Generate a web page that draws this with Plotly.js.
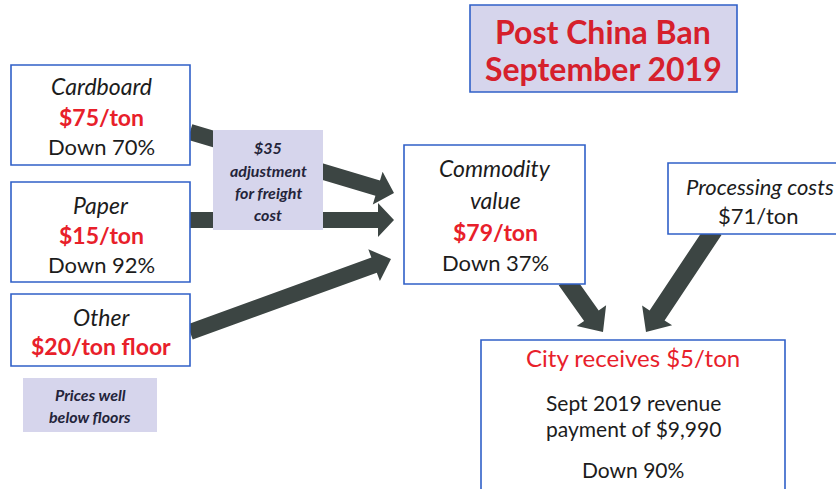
<!DOCTYPE html>
<html><head><meta charset="utf-8">
<script src="https://cdn.plot.ly/plotly-3.0.1.min.js"></script>
<style>html,body{margin:0;padding:0;background:#fff}#chart{width:836px;height:489px}</style>
</head><body><div id="chart"></div>
<script>
// ---- data ----
const titleLines = ["Post China Ban", "September 2019"];
const materials = ["Cardboard", "Paper", "Other"];
const materialPrices = [75, 15, 20];
const materialDrops = [70, 92, null];
const freightAdjustment = 35;
const commodityValue = 79;
const commodityDrop = 37;
const processingCost = 71;
const cityReceives = 5;
const revenueMonth = "Sept 2019";
const revenuePayment = 9990;
const revenueDrop = 90;
const noteText = ["Prices well", "below floors"];

// ---- style ----
const BLUE = "#3060c8", LAV = "#d6d5ec", RED = "#e8202a", TRED = "#d6202c", GREY = "#3c4543", INK = "#1c1c1c", NAVY = "#24243a";
const FONT = "Lato, 'Open Sans', sans-serif";

const shapes = [], ann = [];
function box(x0, y0, x1, y1, fill, border) {
  shapes.push({type: "rect", xref: "x", yref: "y", x0, y0, x1, y1,
    fillcolor: fill, line: {color: border || "rgba(0,0,0,0)", width: border ? 1.6 : 0}, layer: "above"});
}
function txt(x, y, t, size, color, italic, weight) {
  ann.push({x, y, xref: "x", yref: "y", text: t, showarrow: false,
    xanchor: "center", yanchor: "middle",
    font: {family: FONT, size, color: color || INK, style: italic ? "italic" : "normal", weight: weight || 400}});
}
function arrow(x0, y0, x1, y1, sw, hw, hl) {
  const dx = x1 - x0, dy = y1 - y0, L = Math.hypot(dx, dy);
  const ux = dx / L, uy = dy / L, px = -uy, py = ux;
  const bx = x1 - ux * hl, by = y1 - uy * hl;
  const pts = [
    [x0 + px * sw / 2, y0 + py * sw / 2], [bx + px * sw / 2, by + py * sw / 2],
    [bx + px * hw / 2, by + py * hw / 2], [x1, y1],
    [bx - px * hw / 2, by - py * hw / 2], [bx - px * sw / 2, by - py * sw / 2],
    [x0 - px * sw / 2, y0 - py * sw / 2]];
  shapes.push({type: "path", xref: "x", yref: "y", layer: "above",
    path: "M" + pts.map(p => p[0].toFixed(1) + "," + p[1].toFixed(1)).join("L") + "Z",
    fillcolor: GREY, line: {width: 0}});
}

// arrows (drawn first, under boxes)
arrow(190, 132, 394, 193, 16, 34, 17);
arrow(190, 220, 394, 220, 16, 34, 16);
arrow(190, 332, 391, 259, 16, 34, 18);
arrow(566, 280, 603, 332, 18, 36, 20);
arrow(714, 230, 646, 332, 18, 36, 20);

// title
box(470, 5, 737, 92, LAV, BLUE);
txt(603, 31, titleLines[0], 32, TRED, false, 700);
txt(603, 68, titleLines[1], 32, TRED, false, 700);

// material boxes
const mBoxes = [[65, 165], [182, 282], [294, 366]];
const mLines = [[86, 117, 146], [205, 235, 264], [317, 346]];
materials.forEach((m, i) => {
  box(11, mBoxes[i][0], 190, mBoxes[i][1], "#ffffff", BLUE);
  txt(101, mLines[i][0], m, 23, INK, true);
  const priceTxt = "$" + materialPrices[i] + "/ton" + (materialDrops[i] === null ? " floor" : "");
  txt(101, mLines[i][1], priceTxt, 23, RED, false, 700);
  if (materialDrops[i] !== null) txt(101, mLines[i][2], "Down " + materialDrops[i] + "%", 22, INK);
});

// note
box(23, 378, 157, 432, LAV);
txt(90, 394, noteText[0], 16, NAVY, true, 700);
txt(90, 416, noteText[1], 16, NAVY, true, 700);

// freight adjustment
box(213, 130, 323, 230, LAV);
txt(268, 147, "$" + freightAdjustment, 16, NAVY, true, 700);
txt(268, 170, "adjustment", 16, NAVY, true, 700);
txt(268, 192, "for freight", 16, NAVY, true, 700);
txt(268, 214, "cost", 16, NAVY, true, 700);

// commodity
box(404, 145, 585, 284, "#ffffff", BLUE);
txt(495, 168, "Commodity", 23, INK, true);
txt(495, 200, "value", 23, INK, true);
txt(495, 232, "$" + commodityValue + "/ton", 23, RED, false, 700);
txt(495, 262, "Down " + commodityDrop + "%", 22, INK);

// processing
box(668, 163, 845, 234, "#ffffff", BLUE);
txt(760, 186, "Processing costs", 22, INK, true);
txt(758, 215, "$" + processingCost + "/ton", 22, INK);

// city
box(481, 340, 785, 492, "#ffffff", BLUE);
txt(633, 357, "City receives $" + cityReceives + "/ton", 24, RED);
txt(633, 402, revenueMonth + " revenue", 21, INK);
txt(633, 428, "payment of $" + revenuePayment.toLocaleString("en-US"), 21, INK);
txt(633, 469, "Down " + revenueDrop + "%", 21, INK);

Plotly.newPlot("chart", [{x: [0, 836], y: [0, 489], type: "scatter", mode: "markers",
  marker: {opacity: 0}, hoverinfo: "skip", showlegend: false}], {
  width: 836, height: 489, margin: {l: 0, r: 0, t: 0, b: 0},
  paper_bgcolor: "#fff", plot_bgcolor: "#fff", showlegend: false,
  xaxis: {range: [0, 836], visible: false, fixedrange: true},
  yaxis: {range: [489, 0], visible: false, fixedrange: true},
  shapes, annotations: ann
}, {displayModeBar: false, staticPlot: true});
</script></body></html>
